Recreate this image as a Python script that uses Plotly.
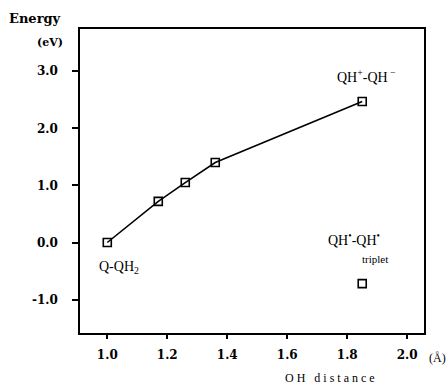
import plotly.graph_objects as go

# Data
oh_distance = [1.0, 1.17, 1.26, 1.36, 1.85]
energy = [0.0, 0.72, 1.05, 1.40, 2.47]
triplet_x = [1.85]
triplet_y = [-0.72]

x_ticks = [1.0, 1.2, 1.4, 1.6, 1.8, 2.0]
x_tick_labels = ["1.0", "1.2", "1.4", "1.6", "1.8", "2.0"]
y_ticks = [3.0, 2.0, 1.0, 0.0, -1.0]
y_tick_labels = ["3.0", "2.0", "1.0", "0.0", "-1.0"]

serif = "Liberation Serif, Times New Roman, serif"
bold_serif = "DejaVu Serif, serif"

fig = go.Figure()
fig.add_trace(go.Scatter(
    x=oh_distance, y=energy, mode="lines+markers",
    line=dict(color="black", width=1.6),
    marker=dict(symbol="square-open", size=8, color="black", line=dict(width=1.6)),
    showlegend=False, hoverinfo="skip",
))
fig.add_trace(go.Scatter(
    x=triplet_x, y=triplet_y, mode="markers",
    marker=dict(symbol="square-open", size=8, color="black", line=dict(width=1.6)),
    showlegend=False, hoverinfo="skip",
))

fig.update_layout(
    width=448, height=388,
    margin=dict(l=80, r=24, t=29, b=55),
    paper_bgcolor="white", plot_bgcolor="white",
    font=dict(family=serif, color="black"),
    xaxis=dict(
        range=[0.909, 2.056], tickvals=x_ticks, ticktext=x_tick_labels,
        showgrid=False, zeroline=False, showline=True, linecolor="black", linewidth=1.5,
        mirror=True, ticks="outside", ticklen=4, tickwidth=1.5, tickcolor="black",
        ticklabelstandoff=6,
        tickfont=dict(family=bold_serif, size=12, color="black", weight="bold"),
    ),
    yaxis=dict(
        range=[-1.585, 3.739], tickvals=y_ticks, ticktext=y_tick_labels,
        showgrid=False, zeroline=False, showline=True, linecolor="black", linewidth=1.5,
        mirror=True, ticks="outside", ticklen=6, tickwidth=1.5, tickcolor="black",
        ticklabelstandoff=12,
        tickfont=dict(family=bold_serif, size=12, color="black", weight="bold"),
    ),
)


def pix(xp, yp):
    # convert pixel position to paper coords
    return (xp - 80) / (448 - 80 - 24), (388 - 55 - yp) / (388 - 29 - 55)


texts = [
    ("<b>Energy</b>", 35, 19, 13, bold_serif),
    ("<b>(eV)</b>", 50, 42, 11, bold_serif),
    ("O H   d i s t a n c e", 330, 378, 12, serif),
    ("(Å)", 437, 358, 12, serif),
    ("QH<sup>+</sup>-QH<sup> −</sup>", 366, 76, 14, serif),
    ("Q-QH<sub>2</sub>", 119, 267, 14, serif),
    ("QH<sup>•</sup>-QH<sup>•</sup>", 354, 239, 14, serif),
    ("triplet", 375, 259, 11, serif),
]
for t, xp, yp, size, fam in texts:
    px, py = pix(xp, yp)
    fig.add_annotation(x=px, y=py, xref="paper", yref="paper", text=t, showarrow=False,
                       xanchor="center", yanchor="middle",
                       font=dict(family=fam, size=size, color="black"))

fig.write_html("out.html", config={"displayModeBar": False},
               post_script="document.body.style.margin='0';document.body.style.padding='0';")
